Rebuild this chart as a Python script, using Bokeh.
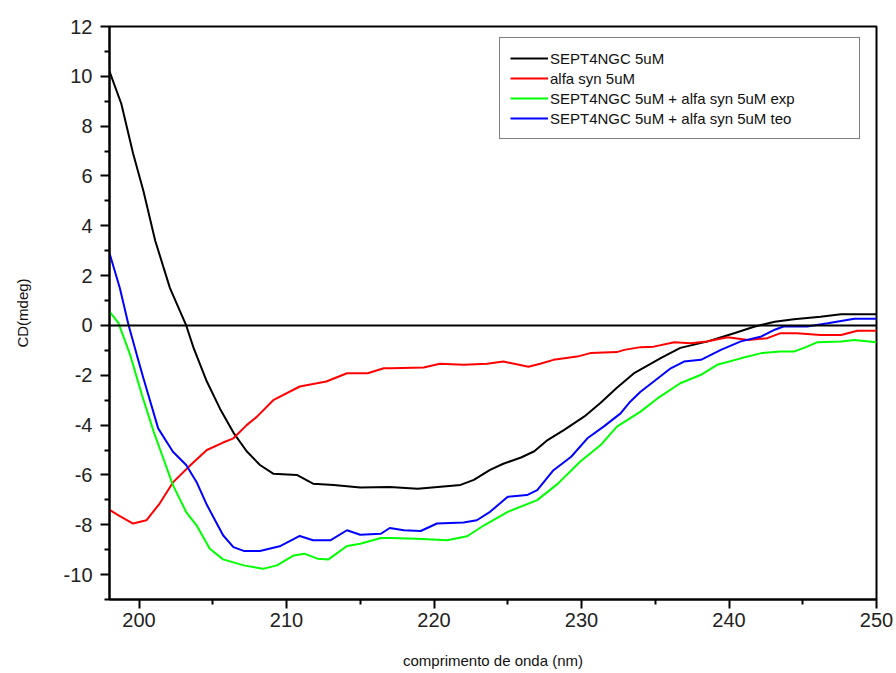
from bokeh.plotting import figure
from bokeh.models import (Range1d, FixedTicker, Span, Legend, LegendItem)
from bokeh.embed import file_html
from bokeh.resources import INLINE

# ---- data ----
black_x = [198.0, 198.8, 199.6, 200.3, 201.1, 202.1, 203.2, 203.7, 204.6, 205.5, 206.4, 207.3, 208.2, 209.1,
           210.7, 211.8, 213.2, 215.0, 217.0, 218.9, 221.8, 222.7, 223.8, 224.7, 225.9, 226.8, 227.7, 228.8,
           230.2, 231.3, 232.4, 233.6, 234.5, 235.4, 236.7, 238.5, 240.4, 241.7, 243.1, 244.4, 246.2, 247.6, 250.0]
black_y = [10.2, 8.9, 6.9, 5.4, 3.4, 1.5, 0.0, -0.9, -2.25, -3.35, -4.3, -5.05, -5.6, -5.95,
           -6.0, -6.35, -6.4, -6.5, -6.48, -6.55, -6.4, -6.2, -5.8, -5.55, -5.3, -5.05, -4.6, -4.2,
           -3.65, -3.1, -2.5, -1.9, -1.6, -1.3, -0.9, -0.65, -0.3, -0.05, 0.15, 0.25, 0.35, 0.45, 0.45]

red_x = [198.0, 198.7, 199.6, 200.5, 201.4, 202.3, 203.5, 204.6, 205.7, 206.4, 207.3, 208.0, 209.1, 210.9,
         212.7, 214.1, 215.5, 216.6, 217.1, 219.3, 220.4, 222.0, 223.6, 224.7, 225.6, 226.4, 227.2, 228.1,
         229.7, 230.6, 232.4, 232.9, 234.0, 234.9, 236.3, 237.4, 238.5, 239.9, 241.3, 242.6, 243.5, 244.6,
         246.2, 247.6, 248.7, 250.0]
red_y = [-7.4, -7.65, -7.95, -7.82, -7.15, -6.3, -5.6, -5.0, -4.7, -4.53, -4.0, -3.66, -3.0, -2.45,
         -2.25, -1.92, -1.92, -1.72, -1.72, -1.69, -1.54, -1.58, -1.54, -1.45, -1.56, -1.66, -1.54, -1.38,
         -1.25, -1.11, -1.07, -0.98, -0.87, -0.85, -0.67, -0.71, -0.64, -0.47, -0.58, -0.51, -0.31, -0.31,
         -0.38, -0.38, -0.21, -0.21]

green_x = [198.0, 198.6, 199.4, 200.2, 201.0, 201.65, 202.3, 203.2, 203.9, 204.8, 205.7, 207.1, 208.4, 209.35,
           210.5, 211.2, 212.1, 212.85, 214.1, 215.0, 216.4, 217.05, 218.85, 220.9, 222.25, 223.4, 225.0,
           227.0, 228.4, 229.9, 231.3, 232.4, 233.1, 234.0, 235.15, 236.7, 238.1, 239.2, 240.8, 242.2, 243.5,
           244.4, 245.3, 246.0, 247.6, 248.5, 250.0]
green_y = [0.56, 0.1, -1.18, -2.79, -4.27, -5.34, -6.41, -7.49, -8.02, -8.96, -9.39, -9.63, -9.77, -9.63,
           -9.23, -9.16, -9.36, -9.39, -8.85, -8.76, -8.53, -8.53, -8.56, -8.62, -8.46, -8.02, -7.48,
           -7.01, -6.35, -5.47, -4.8, -4.06, -3.8, -3.46, -2.93, -2.32, -1.98, -1.58, -1.32, -1.11, -1.05,
           -1.05, -0.85, -0.67, -0.64, -0.58, -0.67]

blue_x = [198.0, 198.7, 199.3, 199.85, 200.3, 201.3, 202.3, 203.2, 203.9, 204.6, 205.7, 206.4, 207.1, 208.2,
          209.6, 210.9, 211.8, 213.0, 214.1, 215.0, 216.4, 217.0, 217.95, 219.1, 220.2, 222.0, 222.9, 223.8,
          225.0, 226.3, 227.0, 228.1, 229.3, 230.4, 231.5, 232.65, 233.3, 234.0, 234.9, 236.05, 236.95,
          238.1, 239.45, 240.8, 242.2, 243.1, 243.7, 245.3, 246.7, 248.5, 250.0]
blue_y = [2.9, 1.5, 0.0, -1.18, -2.12, -4.13, -5.07, -5.6, -6.28, -7.2, -8.42, -8.9, -9.05, -9.05,
          -8.85, -8.45, -8.62, -8.62, -8.22, -8.4, -8.36, -8.13, -8.22, -8.25, -7.95, -7.91, -7.82, -7.48,
          -6.88, -6.81, -6.61, -5.81, -5.27, -4.53, -4.06, -3.53, -3.06, -2.66, -2.25, -1.72, -1.45,
          -1.38, -0.98, -0.64, -0.44, -0.17, -0.04, -0.04, 0.09, 0.27, 0.27]

labels = ["SEPT4NGC 5uM", "alfa syn 5uM",
          "SEPT4NGC 5uM + alfa syn 5uM exp", "SEPT4NGC 5uM + alfa syn 5uM teo"]
colors = ["#000000", "#ff0000", "#00ff00", "#0000ff"]

x_major = [200, 210, 220, 230, 240, 250]
x_minor = [205, 215, 225, 235, 245]
y_major = [-10, -8, -6, -4, -2, 0, 2, 4, 6, 8, 10, 12]
y_minor = [-11, -9, -7, -5, -3, -1, 1, 3, 5, 7, 9, 11]

FONT = "Liberation Sans"

p = figure(width=896, height=673, output_backend="svg", toolbar_location=None,
           x_range=Range1d(198, 250), y_range=Range1d(-11, 12),
           min_border_left=109, min_border_right=20, min_border_top=26, min_border_bottom=74)
p.background_fill_color = "white"
p.border_fill_color = "white"
p.grid.visible = False
p.outline_line_color = "black"
p.outline_line_width = 2

p.xaxis.ticker = FixedTicker(ticks=x_major, minor_ticks=x_minor)
p.yaxis.ticker = FixedTicker(ticks=y_major, minor_ticks=y_minor)
p.yaxis.major_label_overrides = {t: str(t) for t in y_major}
for ax in (p.xaxis[0], p.yaxis[0]):
    ax.axis_line_width = 2
    ax.major_tick_line_width = 2
    ax.minor_tick_line_width = 2
    ax.major_tick_in = 0
    ax.major_tick_out = 9
    ax.minor_tick_in = 0
    ax.minor_tick_out = 5
    ax.major_label_text_font = FONT
    ax.major_label_text_font_size = "20px"
    ax.major_label_text_color = "#222222"
    ax.axis_label_text_font = FONT
    ax.axis_label_text_font_size = "15px"
    ax.axis_label_text_font_style = "normal"
    ax.axis_label_text_color = "#111111"

p.xaxis.axis_label = "comprimento de onda (nm)"
p.yaxis.axis_label = "CD(mdeg)"
p.xaxis.major_label_standoff = 4
p.yaxis.major_label_standoff = 8
p.xaxis.axis_label_standoff = 22
p.yaxis.axis_label_standoff = 30

p.add_layout(Span(location=0, dimension="width", line_color="black", line_width=2))

rs = []
for xs, ys, c in [(black_x, black_y, colors[0]), (red_x, red_y, colors[1]),
                  (green_x, green_y, colors[2]), (blue_x, blue_y, colors[3])]:
    rs.append(p.line(xs, ys, line_color=c, line_width=2))

legend = Legend(items=[LegendItem(label=l, renderers=[r]) for l, r in zip(labels, rs)],
                location=(390, 460), orientation="vertical",
                border_line_color="black", border_line_width=1,
                background_fill_color="white", background_fill_alpha=1.0,
                padding=10, spacing=0, margin=0,
                glyph_width=38, glyph_height=20, label_height=20, label_standoff=2,
                label_width=299,
                label_text_font=FONT, label_text_font_size="15px", label_text_color="#111111")
p.add_layout(legend)

open("out.html", "w").write(file_html(p, INLINE))
